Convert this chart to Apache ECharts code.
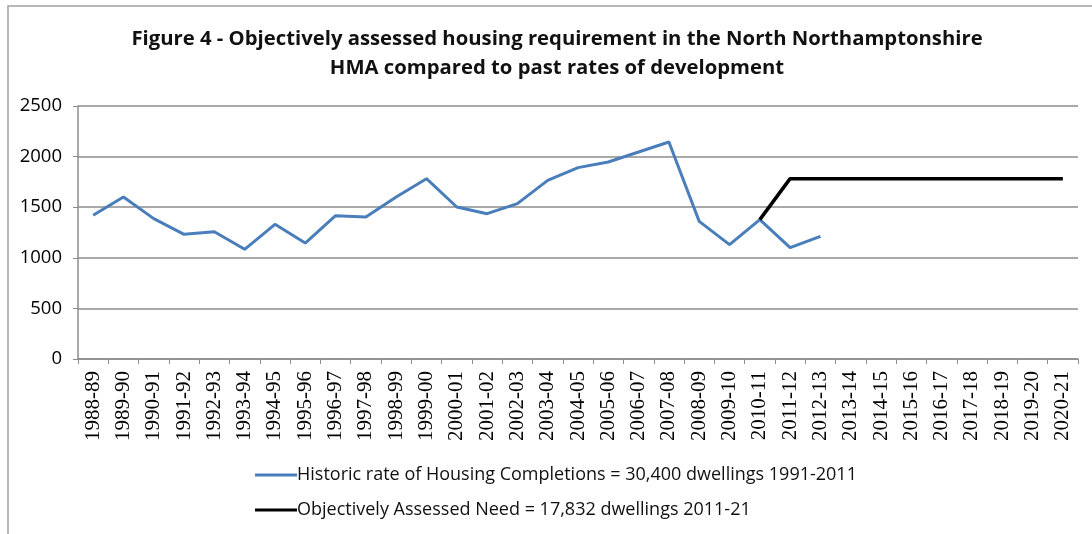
<!DOCTYPE html>
<html>
<head>
<meta charset="utf-8">
<script src="https://cdn.jsdelivr.net/npm/echarts@6/dist/echarts.min.js"></script>
<style>
  html, body { margin: 0; padding: 0; background: #fff; }
  #chart { width: 1092px; height: 534px; }
</style>
</head>
<body>
<div id="chart"></div>
<script>
// financial years on the x axis
var years = ['1988-89', '1989-90', '1990-91', '1991-92', '1992-93', '1993-94', '1994-95',
    '1995-96', '1996-97', '1997-98', '1998-99', '1999-00', '2000-01', '2001-02', '2002-03',
    '2003-04', '2004-05', '2005-06', '2006-07', '2007-08', '2008-09', '2009-10', '2010-11',
    '2011-12', '2012-13', '2013-14', '2014-15', '2015-16', '2016-17', '2017-18', '2018-19',
    '2019-20', '2020-21'];

// historic completions
var completions = [1420, 1601, 1387, 1232, 1258, 1084, 1331, 1146, 1416, 1403, 1601, 1782,
    1502, 1436, 1535, 1765, 1891, 1947, 2045, 2144, 1360, 1130, 1377, 1100, 1212];

// objectively assessed need, starts from 2010-11
var needStart = 22;
var needValues = [1377, 1782, 1782, 1782, 1782, 1782, 1782, 1782, 1782, 1782, 1782];

var yTicks = [0, 500, 1000, 1500, 2000, 2500];

var seriesNames = ['Historic rate of Housing Completions = 30,400 dwellings 1991-2011',
    'Objectively Assessed Need = 17,832 dwellings 2011-21'];

var needData = years.map(function (y, i) {
    var k = i - needStart;
    return (k >= 0 && k < needValues.length) ? needValues[k] : null;
});

var chart = echarts.init(document.getElementById('chart'), null, {renderer: 'canvas'});

var option = {
    backgroundColor: '#fff',
    animation: false,
    title: {
        text: 'Figure 4 - Objectively assessed housing requirement in the North Northamptonshire\nHMA compared to past rates of development',
        left: 552,
        top: 20,
        textAlign: 'center',
        textStyle: {
            fontFamily: 'Open Sans',
            fontWeight: 'bold',
            fontSize: 20.3,
            lineHeight: 29,
            color: '#111'
        }
    },
    graphic: [{
        type: 'rect',
        shape: {x: 8, y: 6, width: 1200, height: 700},
        style: {fill: 'none', stroke: '#a0a0a0', lineWidth: 1.5},
        silent: true
    }],
    legend: {
        orient: 'vertical',
        left: 250,
        top: 461,
        itemWidth: 42,
        itemHeight: 3,
        itemGap: 17,
        icon: 'rect',
        textStyle: {
            fontFamily: 'Open Sans',
            fontSize: 18,
            color: '#111',
            padding: [0, 0, 0, -5]
        },
        data: seriesNames
    },
    grid: {
        left: 78,
        right: 14,
        top: 106,
        bottom: 175
    },
    xAxis: {
        type: 'category',
        data: years,
        boundaryGap: true,
        axisLine: {lineStyle: {color: '#8c8c8c', width: 1.5}},
        axisTick: {show: true, length: 5, lineStyle: {color: '#8c8c8c'}},
        axisLabel: {
            rotate: 90,
            interval: 0,
            margin: 12,
            fontFamily: 'Liberation Serif',
            fontSize: 21,
            color: '#000'
        }
    },
    yAxis: {
        type: 'value',
        min: yTicks[0],
        max: yTicks[yTicks.length - 1],
        interval: 500,
        axisLine: {show: true, lineStyle: {color: '#8c8c8c', width: 1.5}},
        axisTick: {show: true, length: 5, lineStyle: {color: '#8c8c8c'}},
        axisLabel: {
            margin: 16,
            fontFamily: 'Open Sans',
            fontSize: 18.5,
            color: '#000',
            formatter: function (v) { return String(v); }
        },
        splitLine: {lineStyle: {color: '#8c8c8c', width: 1.5}}
    },
    series: [{
        name: seriesNames[0],
        type: 'line',
        data: completions,
        symbol: 'none',
        lineStyle: {color: '#4a7ebb', width: 3},
        itemStyle: {color: '#4a7ebb'}
    }, {
        name: seriesNames[1],
        type: 'line',
        data: needData,
        symbol: 'none',
        lineStyle: {color: '#000', width: 3.5},
        itemStyle: {color: '#000'}
    }]
};

chart.setOption(option);
</script>
</body>
</html>
